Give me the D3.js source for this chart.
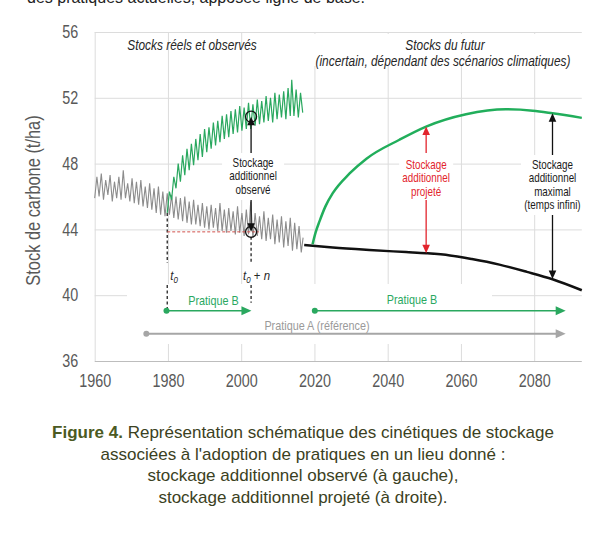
<!DOCTYPE html>
<html><head><meta charset="utf-8">
<script src="https://cdn.jsdelivr.net/npm/d3@7"></script>
<style>
html,body{margin:0;padding:0;background:#fff;}
svg{display:block;}
</style></head><body>
<svg id="c" width="615" height="544"></svg>
<script>
// ---------- data ----------
const yTicks = [36, 40, 44, 48, 52, 56];
const xTicks = [1960, 1980, 2000, 2020, 2040, 2060, 2080];
const xDomain = [1960, 2093];
const yDomain = [36, 56];

// Pratique A (reference), observed stocks (grey, noisy)
const refObserved = [
  [1960.0,45.9],[1960.6,47.2],[1961.2,46.0],[1961.8,47.4],[1962.4,45.8],[1963.0,47.0],
  [1963.6,46.1],[1964.2,47.3],[1964.8,45.7],[1965.4,46.9],[1966.0,45.9],[1966.6,47.2],
  [1967.2,45.8],[1967.8,47.6],[1968.4,45.9],[1969.0,46.8],[1969.6,45.7],[1970.2,47.1],
  [1970.8,45.6],[1971.4,46.9],[1972.0,45.5],[1972.6,47.0],[1973.2,45.4],[1973.8,46.6],
  [1974.4,45.3],[1975.0,46.8],[1975.6,45.2],[1976.2,46.5],[1976.8,45.0],[1977.4,46.6],
  [1978.0,44.9],[1978.6,46.3],[1979.2,44.8],[1979.8,46.2],[1980.4,44.9],[1981.0,46.1],
  [1981.6,44.7],[1982.2,46.0],[1982.8,44.6],[1983.4,45.9],[1984.0,44.5],[1984.6,46.0],
  [1985.2,44.4],[1985.8,45.7],[1986.4,44.3],[1987.0,45.8],[1987.6,44.3],[1988.2,45.5],
  [1988.8,44.2],[1989.4,45.6],[1990.0,44.1],[1990.6,45.4],[1991.2,44.0],[1991.8,45.5],
  [1992.4,44.1],[1993.0,45.3],[1993.6,43.9],[1994.2,45.6],[1994.8,43.9],[1995.4,45.2],
  [1996.0,43.8],[1996.6,45.3],[1997.2,43.9],[1997.8,45.1],[1998.4,43.7],[1999.0,45.4],
  [1999.6,43.8],[2000.2,45.0],[2000.8,43.6],[2001.4,45.2],[2002.0,43.7],[2002.6,45.7],
  [2003.2,43.5],[2003.8,45.0],[2004.4,43.6],[2005.0,44.8],[2005.6,43.4],[2006.2,45.1],
  [2006.8,43.3],[2007.4,44.7],[2008.0,43.4],[2008.6,44.9],[2009.2,43.1],[2009.8,44.6],
  [2010.4,43.2],[2011.0,44.8],[2011.6,42.9],[2012.2,44.5],[2012.8,43.0],[2013.4,44.7],
  [2014.0,42.7],[2014.6,44.4],[2015.2,42.8],[2015.8,44.2],[2016.4,42.6],[2016.9,43.5]
];

// Pratique B, observed stocks (green, noisy)
const practiceBObserved = [
  [1979.8,45.0],[1980.4,46.3],[1981.0,45.8],[1981.6,47.2],[1982.2,46.5],[1982.8,48.0],
  [1983.4,46.9],[1984.0,48.5],[1984.6,47.3],[1985.2,48.9],[1985.8,47.6],[1986.4,49.2],
  [1987.0,47.9],[1987.6,49.5],[1988.2,48.2],[1988.8,49.8],[1989.4,48.4],[1990.0,50.1],
  [1990.6,48.7],[1991.2,50.2],[1991.8,48.9],[1992.4,50.5],[1993.0,49.1],[1993.6,50.6],
  [1994.2,49.3],[1994.8,50.9],[1995.4,49.5],[1996.0,51.0],[1996.6,49.6],[1997.2,51.2],
  [1997.8,49.8],[1998.4,51.3],[1999.0,49.9],[1999.6,51.5],[2000.2,50.0],[2000.8,51.4],
  [2001.4,50.1],[2002.0,51.7],[2002.6,50.1],[2003.2,51.6],[2003.8,50.3],[2004.4,51.9],
  [2005.0,50.4],[2005.6,51.8],[2006.2,50.5],[2006.8,52.1],[2007.4,50.6],[2008.0,52.0],
  [2008.6,50.5],[2009.2,52.3],[2009.8,50.7],[2010.4,52.2],[2011.0,50.8],[2011.6,52.4],
  [2012.2,50.7],[2012.8,52.6],[2013.4,50.9],[2013.8,53.1],[2014.4,50.9],[2015.0,52.5],
  [2015.6,50.8],[2016.2,52.3],[2016.8,51.1]
];

// Future (projected) stocks
const refFuture = [
  [2017.2,43.05],[2025,42.9],[2035,42.75],[2045,42.62],[2050.5,42.55],[2057,42.42],
  [2063,42.2],[2070.5,41.86],[2078,41.42],[2085,40.97],[2093,40.3]
];
const practiceBFuture = [
  [2019.5,43.1],[2020.3,43.8],[2021.4,44.5],[2023,45.4],[2025,46.2],[2029.6,47.4],
  [2034.2,48.3],[2043.2,49.45],[2050.5,50.25],[2061.4,51.0],[2072.3,51.3],
  [2079.6,51.22],[2085,51.06],[2093,50.78]
];

// annotation values
const t0Year = 1979.8, tnYear = 2002.7;
const t0Level = 45.0;                 // start of Pratique B
const observedCircles = [50.85, 43.85];
const refLevelDash = [1979.8, 2004.8, 43.85];
const projectedArrow = [2050.5, 50.25, 42.55];
const maximalArrow = [2085, 51.06, 40.99];
const practiceBLeft = [1979.6, 2002.8, 39.05];
const practiceBRight = [2020.1, 2088.6, 39.05];
const practiceARange = [1974.1, 2088.6, 37.65];

const topCutText = "des pratiques actuelles, apposée ligne de base.";
const headerLeft = "Stocks réels et observés";
const headerRight = ["Stocks du futur", "(incertain, dépendant des scénarios climatiques)"];
const observedLabel = ["Stockage", "additionnel", "observé"];
const projectedLabel = ["Stockage", "additionnel", "projeté"];
const maximalLabel = ["Stockage", "additionnel", "maximal", "(temps infini)"];
const yTitle = "Stock de carbone (t/ha)";
const captionLines = [
  ["Figure 4.", " Représentation schématique des cinétiques de stockage"],
  ["", "associées à l'adoption de pratiques en un lieu donné :"],
  ["", "stockage additionnel observé (à gauche),"],
  ["", "stockage additionnel projeté (à droite)."]
];

// ---------- drawing ----------
const svg = d3.select('#c');
const x = d3.scaleLinear().domain(xDomain).range([94.7, 581.8]);
const y = d3.scaleLinear().domain(yDomain).range([361, 32]);
const NARROW = "'Liberation Sans Narrow','Arial Narrow','Liberation Sans',Arial,sans-serif";
const SANS = "'Liberation Sans',Arial,Helvetica,sans-serif";
const GREEN = '#2aa85f', GREY = '#8c8c8c', RED = '#e2242c';

svg.append('rect').attr('width', 615).attr('height', 544).attr('fill', '#fff');

// detect a real narrow face; otherwise condense Liberation Sans horizontally
const hasNarrow = (() => {
  const a = svg.append('text').attr('font-family', "'Liberation Sans Narrow','Arial Narrow'").attr('font-size', 20).text('Stockage additionnel');
  const b = svg.append('text').attr('font-family', SANS).attr('font-size', 20).text('Stockage additionnel');
  const r = a.node().getComputedTextLength() < 0.9 * b.node().getComputedTextLength();
  a.remove(); b.remove();
  return r;
})();
const CF = hasNarrow ? 1 : 0.82;
function condense(sel, f = CF) {
  if (f === 1) return;
  sel.each(function () {
    const t = d3.select(this);
    const x0 = +t.attr('x') || 0;
    t.attr('transform', `translate(${x0 * (1 - f)},0) scale(${f},1)`);
  });
}

// partially visible line of the page above
svg.append('text').attr('x', 27).attr('y', 2.5).attr('font-family', SANS)
  .attr('font-size', 16).attr('fill', '#222').text(topCutText);

// gridlines
const plotW = x(xDomain[1]) - x(xDomain[0]);
const plotH = y(yDomain[0]) - y(yDomain[1]);
svg.append('g').attr('transform', `translate(${x(xDomain[0])},0)`)
  .call(d3.axisLeft(y).tickValues(yTicks.filter(d => d > yDomain[0])).tickSize(-plotW).tickFormat(''))
  .call(g => g.select('.domain').remove())
  .call(g => g.selectAll('line').attr('stroke', '#dcdcdc').attr('stroke-width', 1));
svg.append('g').attr('transform', `translate(0,${y(yDomain[0])})`)
  .call(d3.axisBottom(x).tickValues(xTicks).tickSize(-plotH).tickFormat(''))
  .call(g => g.select('.domain').remove())
  .call(g => g.selectAll('line').attr('stroke', '#dcdcdc').attr('stroke-width', 1));

// x axis line + labels
svg.append('g').attr('transform', `translate(0,${y(yDomain[0])})`)
  .call(d3.axisBottom(x).tickValues(xTicks).tickSize(0).tickPadding(14).tickFormat(d3.format('d')))
  .call(g => g.select('.domain').attr('stroke', '#bdbdbd').attr('d', `M${x(xDomain[0])},0.5H${x(xDomain[1])}`))
  .call(g => g.selectAll('text').attr('font-family', NARROW).attr('font-size', 17.5).attr('fill', '#595959').call(condense));
// y labels
svg.append('g').attr('transform', `translate(${x(xDomain[0])},0)`)
  .call(d3.axisLeft(y).tickValues(yTicks).tickSize(0).tickPadding(16.5).tickFormat(d3.format('d')))
  .call(g => g.select('.domain').remove())
  .call(g => g.selectAll('text').attr('font-family', NARROW).attr('font-size', 17.5).attr('fill', '#595959').call(condense));
// y title
svg.append('text')
  .attr('transform', `translate(40,${(y(yDomain[0]) + y(yDomain[1])) / 2 + 4}) rotate(-90) scale(${CF},1)`)
  .attr('text-anchor', 'middle').attr('font-family', NARROW).attr('font-size', 20)
  .attr('fill', '#595959').text(yTitle);

// white panel behind the practice arrows and right header
svg.append('rect').attr('x', 127).attr('y', 284).attr('width', 365).attr('height', 60).attr('fill', '#fff');
svg.append('rect').attr('x', 312).attr('y', 34).attr('width', 266).attr('height', 32).attr('fill', '#fff');

// headers
const hdr = svg.append('g').attr('font-family', NARROW).attr('font-style', 'italic')
  .attr('font-size', 14.5).attr('fill', '#262626').attr('text-anchor', 'middle');
hdr.append('text').attr('x', 192).attr('y', 50).text(headerLeft);
hdr.append('text').attr('x', 445).attr('y', 50).text(headerRight[0]);
hdr.append('text').attr('x', 443).attr('y', 66).text(headerRight[1]);
hdr.selectAll('text').call(condense);

// series
const line = d3.line().x(d => x(d[0])).y(d => y(d[1]));
svg.append('path').datum(refObserved).attr('d', line).attr('fill', 'none')
  .attr('stroke', GREY).attr('stroke-width', 1.1);
svg.append('path').datum(practiceBObserved).attr('d', line).attr('fill', 'none')
  .attr('stroke', GREEN).attr('stroke-width', 1.2);
const smooth = d3.line().x(d => x(d[0])).y(d => y(d[1])).curve(d3.curveMonotoneX);
svg.append('path').datum(refFuture).attr('d', smooth).attr('fill', 'none')
  .attr('stroke', '#111').attr('stroke-width', 2.5);
svg.append('path').datum(practiceBFuture).attr('d', smooth).attr('fill', 'none')
  .attr('stroke', '#21ae5b').attr('stroke-width', 2.5);

// helpers
function head(g, tx, ty, dir, color, len = 8.5, half = 3.8) {
  let p;
  if (dir === 'up') p = [[tx, ty], [tx - half, ty + len], [tx + half, ty + len]];
  if (dir === 'down') p = [[tx, ty], [tx - half, ty - len], [tx + half, ty - len]];
  if (dir === 'right') p = [[tx, ty], [tx - len, ty - half], [tx - len, ty + half]];
  g.append('path').attr('d', 'M' + p.map(q => q.join(',')).join('L') + 'Z').attr('fill', color);
}
function vArrow(year, top, bottom, color) {
  const g = svg.append('g');
  const px = x(year);
  g.append('line').attr('x1', px).attr('x2', px).attr('y1', y(top) + 4).attr('y2', y(bottom) - 4)
    .attr('stroke', color).attr('stroke-width', 1.3);
  head(g, px, y(top), 'up', color);
  head(g, px, y(bottom), 'down', color);
}
function hArrow(range, color, width) {
  const [a, b, v] = range;
  const g = svg.append('g');
  g.append('line').attr('x1', x(a)).attr('x2', x(b) - 6).attr('y1', y(v)).attr('y2', y(v))
    .attr('stroke', color).attr('stroke-width', width);
  g.append('circle').attr('cx', x(a)).attr('cy', y(v)).attr('r', 3).attr('fill', color);
  head(g, x(b), y(v), 'right', color, 10, 4.5);
}
function labelBox(cx, top, bottom, w, lines, color, lh, firstBase) {
  svg.append('rect').attr('x', cx - w / 2).attr('y', top).attr('width', w).attr('height', bottom - top).attr('fill', '#fff');
  const g = svg.append('g').attr('font-family', NARROW).attr('font-size', 12)
    .attr('fill', color).attr('text-anchor', 'middle');
  lines.forEach((s, i) => g.append('text').attr('x', cx).attr('y', firstBase + i * lh).text(s));
  g.selectAll('text').call(condense);
}

// dashed guides
const dash = svg.append('g').attr('stroke', '#111').attr('stroke-width', 1.2).attr('stroke-dasharray', '3,2.5');
const labelY = 276;
dash.append('line').attr('x1', x(t0Year)).attr('x2', x(t0Year)).attr('y1', y(t0Level)).attr('y2', labelY - 13);
dash.append('line').attr('x1', x(t0Year)).attr('x2', x(t0Year)).attr('y1', labelY + 9).attr('y2', y(practiceBLeft[2]));
dash.append('line').attr('x1', x(tnYear)).attr('x2', x(tnYear)).attr('y1', y(observedCircles[1]) + 5).attr('y2', labelY - 13);
dash.append('line').attr('x1', x(tnYear)).attr('x2', x(tnYear)).attr('y1', labelY + 9).attr('y2', y(practiceBLeft[2]) - 8);
svg.append('line').attr('x1', x(refLevelDash[0])).attr('x2', x(refLevelDash[1]))
  .attr('y1', y(refLevelDash[2])).attr('y2', y(refLevelDash[2]))
  .attr('stroke', '#d0504c').attr('stroke-width', 1).attr('stroke-dasharray', '3,2');

// t labels
const tl = svg.append('g').attr('font-family', NARROW).attr('font-style', 'italic')
  .attr('font-size', 13).attr('fill', '#262626');
const t0 = tl.append('text').attr('x', x(t0Year) + 3).attr('y', labelY + 4);
t0.append('tspan').text('t');
t0.append('tspan').attr('font-size', 9).attr('dy', 3).text('0');
const tn = tl.append('text').attr('x', x(tnYear) - 8).attr('y', labelY + 4);
tn.append('tspan').text('t');
tn.append('tspan').attr('font-size', 9).attr('dy', 3).text('0');
tn.append('tspan').attr('dy', -3).attr('font-style', 'normal').text(' + ');
tn.append('tspan').text('n');
tl.selectAll('text').call(condense, hasNarrow ? 1 : 0.88);

// observed additional storage
vArrow(tnYear, observedCircles[0], observedCircles[1], '#111');
observedCircles.forEach(v => svg.append('circle').attr('cx', x(tnYear)).attr('cy', y(v)).attr('r', 5.5)
  .attr('fill', 'none').attr('stroke', '#111').attr('stroke-width', 1.3));
labelBox(x(tnYear) + 2, 153, 200, 62, observedLabel, '#1a1a1a', 13.5, 167);

// projected / maximal
vArrow(projectedArrow[0], projectedArrow[1], projectedArrow[2], RED);
labelBox(x(projectedArrow[0]), 153, 200, 54, projectedLabel, RED, 13.5, 169);
vArrow(maximalArrow[0], maximalArrow[1], maximalArrow[2], '#111');
labelBox(x(maximalArrow[0]), 155, 215, 63, maximalLabel, '#1a1a1a', 13.3, 169);

// practice arrows
hArrow(practiceBLeft, GREEN, 1.5);
hArrow(practiceBRight, GREEN, 1.5);
hArrow(practiceARange, '#a6a6a6', 2);
const pt = svg.append('g').attr('font-family', NARROW).attr('font-size', 13.2).attr('text-anchor', 'middle');
pt.append('text').attr('x', 213.5).attr('y', 305).attr('fill', GREEN).text('Pratique B');
pt.append('text').attr('x', 412).attr('y', 304).attr('fill', GREEN).text('Pratique B');
pt.append('text').attr('x', 317).attr('y', 330).attr('fill', '#9a9a9a').text('Pratique A (référence)');
pt.selectAll('text').call(condense);

// caption
const cap = svg.append('g').attr('font-family', SANS).attr('font-size', 17).attr('text-anchor', 'middle');
captionLines.forEach((ln, i) => {
  const t = cap.append('text').attr('x', 303).attr('y', 438 + i * 21.7).attr('fill', '#3b4122');
  if (ln[0]) t.append('tspan').attr('font-weight', 'bold').attr('fill', '#4b5a22').text(ln[0]);
  t.append('tspan').text(ln[1]);
});
</script>
</body></html>
